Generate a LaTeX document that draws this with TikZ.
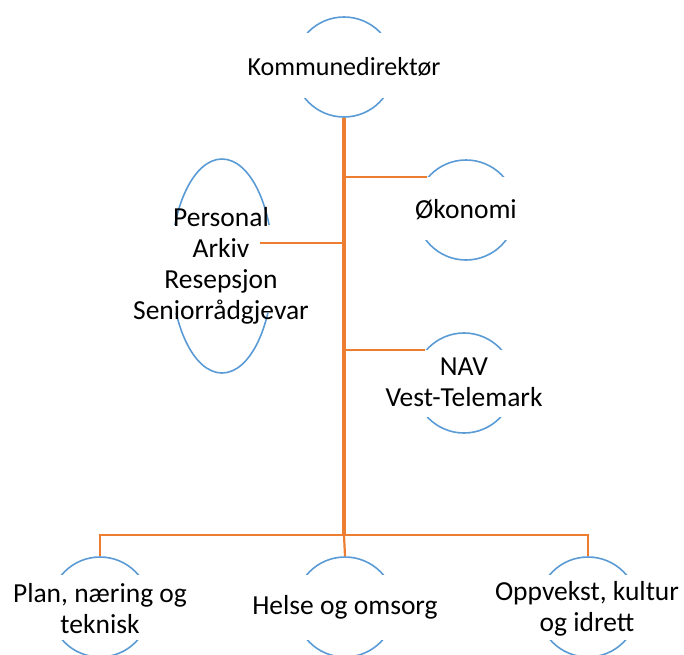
\documentclass[tikz,border=0pt]{standalone}
\usepackage{fontspec}
\setmainfont{Carlito}
\usetikzlibrary{shapes.geometric,calc}
\definecolor{cblue}{RGB}{91,155,213}
\definecolor{corange}{RGB}{237,125,49}
\begin{document}
\begin{tikzpicture}[x=1pt,y=-1pt,
  circ/.style={circle,draw=cblue,line width=1.6pt,minimum size=100pt,inner sep=0pt},
  oval/.style={ellipse,draw=cblue,line width=1.6pt,minimum width=102pt,minimum height=214pt,inner sep=0pt},
  lbl/.style={align=center,font=\fontsize{27.5}{31}\selectfont,inner sep=0pt},
  toplbl/.style={lbl,font=\fontsize{26}{31}\selectfont},
  trunk/.style={draw=corange,line width=3.2pt},
  branch/.style={draw=corange,line width=2.2pt},
  mask/.style={fill=white}]
\useasboundingbox (0,0) rectangle (684,654);
% shapes
\node[circ] (kdc) at (344,67) {};
\node[circ] (okc) at (466,210) {};
\node[circ] (navc) at (464,383) {};
\node[oval] (pec) at (222,266) {};
\node[circ] (plc) at (100,607) {};
\node[circ] (hoc) at (345,607) {};
\node[circ] (opc) at (588,607) {};
% masks hiding the sides of the shapes
\fill[mask] ($(kdc)+(-56,-34)$) rectangle ($(kdc)+(56,31)$);
\fill[mask] ($(okc)+(-56,-33)$) rectangle ($(okc)+(56,30)$);
\fill[mask] ($(navc)+(-56,-33)$) rectangle ($(navc)+(56,34)$);
\fill[mask] ($(pec)+(-58,-41)$) rectangle ($(pec)+(58,47)$);
\fill[mask] ($(plc)+(-56,-32)$) rectangle ($(plc)+(56,33)$);
\fill[mask] ($(hoc)+(-56,-32)$) rectangle ($(hoc)+(56,33)$);
\fill[mask] ($(opc)+(-56,-32)$) rectangle ($(opc)+(56,33)$);
% labels
\node[toplbl] (kd) at (344,67) {Kommunedirektør};
\node[lbl] (ok) at (466,210) {Økonomi};
\node[lbl] (nav) at (464,382) {NAV\\Vest-Telemark};
\node[lbl] (pe) at (221,266) {Personal\\Arkiv\\Resepsjon\\Seniorrådgjevar};
\node[lbl] (pl) at (100,609) {Plan, næring og\\teknisk};
\node[lbl] (ho) at (345,607) {Helse og omsorg};
\node[lbl] (op) at (587,609) {Oppvekst, kultur\\og idrett};
% connectors
\coordinate (bar) at (344,535);
\coordinate (pebr) at (260,243);
\draw[trunk] (kdc.south) -- (bar);
\draw[branch] (okc.140) -- (okc.140 -| kdc.south);
\draw[branch] (navc.140) -- (navc.140 -| kdc.south);
\draw[branch] (pebr) -- (pebr -| kdc.south);
\draw[branch] (plc.north) |- (bar) -| (opc.north);
\draw[branch] (bar) -- (hoc.north);
\end{tikzpicture}
\end{document}
